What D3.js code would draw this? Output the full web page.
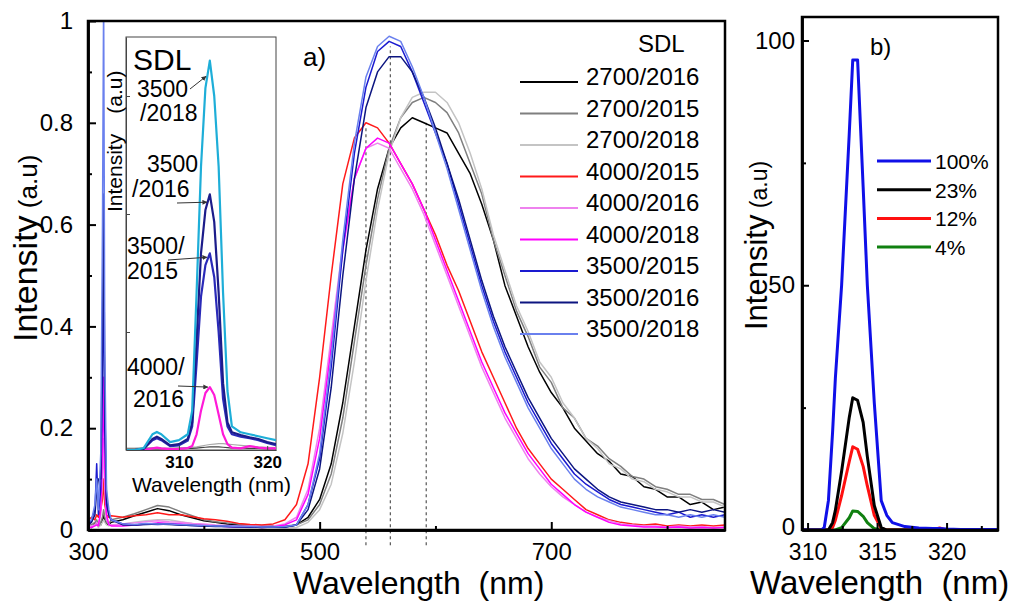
<!DOCTYPE html>
<html>
<head>
<meta charset="utf-8">
<script src="https://cdn.jsdelivr.net/npm/d3@7"></script>
<style>
  html, body { margin: 0; padding: 0; background: #fff; }
  svg { display: block; font-family: Arial, "Liberation Sans", sans-serif; }
</style>
</head>
<body>
<svg id="chart" width="1015" height="601"></svg>
<script>
// ---------- data: panel a (main spectra) ----------
const mainWl = [300, 303, 306, 307.5, 309, 311, 312.5, 313.5, 314.5, 316, 318, 320,
  330, 340, 350, 360, 370, 380, 390, 400, 410, 420, 430, 440, 450, 460, 470,
  480, 490, 500, 510, 520, 530, 540, 550, 560, 570, 580, 590, 600, 610, 620, 630, 640, 650,
  660, 670, 680, 690, 700, 710, 720, 730, 740, 750, 760, 770, 780, 790, 800, 810, 820, 830, 840, 850];

const s2700_2016 = [0.01, 0.005, 0.012, 0.015, 0.008, 0.01, 0.02, 0.03, 0.02, 0.012, 0.01, 0.015,
  0.02, 0.028, 0.035, 0.042, 0.038, 0.03, 0.024, 0.018, 0.015, 0.012, 0.01, 0.009, 0.007, 0.008, 0.006,
  0.01, 0.025, 0.06, 0.13, 0.25, 0.4, 0.55, 0.67, 0.75, 0.79, 0.81, 0.8, 0.79, 0.78, 0.74, 0.7, 0.64, 0.57,
  0.48, 0.42, 0.36, 0.31, 0.27, 0.24, 0.2, 0.175, 0.15, 0.135, 0.11, 0.105, 0.085, 0.08, 0.065, 0.065, 0.05, 0.055, 0.04, 0.045];
const s2700_2015 = [0.015, 0.01, 0.015, 0.02, 0.01, 0.015, 0.025, 0.04, 0.025, 0.015, 0.012, 0.02,
  0.025, 0.032, 0.04, 0.048, 0.045, 0.036, 0.028, 0.02, 0.016, 0.014, 0.012, 0.01, 0.009, 0.008, 0.008,
  0.01, 0.02, 0.05, 0.11, 0.22, 0.37, 0.52, 0.65, 0.75, 0.81, 0.84, 0.85, 0.84, 0.82, 0.78, 0.72, 0.66, 0.57,
  0.5, 0.43, 0.38, 0.32, 0.29, 0.24, 0.22, 0.18, 0.165, 0.14, 0.125, 0.105, 0.1, 0.085, 0.08, 0.07, 0.07, 0.06, 0.06, 0.05];
const s2700_2018 = [0.005, 0.005, 0.01, 0.01, 0.005, 0.01, 0.015, 0.02, 0.015, 0.01, 0.008, 0.01,
  0.012, 0.015, 0.018, 0.02, 0.02, 0.016, 0.013, 0.01, 0.008, 0.007, 0.006, 0.005, 0.005, 0.005, 0.004,
  0.005, 0.015, 0.04, 0.09, 0.19, 0.33, 0.49, 0.63, 0.74, 0.81, 0.85, 0.86, 0.86, 0.84, 0.8, 0.74, 0.67, 0.58,
  0.51, 0.44, 0.39, 0.33, 0.3, 0.25, 0.22, 0.18, 0.16, 0.13, 0.12, 0.1, 0.095, 0.08, 0.075, 0.065, 0.065, 0.055, 0.055, 0.045];
const s4000_2015 = [0.02, 0.025, 0.02, 0.03, 0.025, 0.04, 0.06, 0.1, 0.05, 0.03, 0.025, 0.028,
  0.025, 0.028, 0.03, 0.034, 0.03, 0.03, 0.026, 0.022, 0.02, 0.017, 0.013, 0.011, 0.01, 0.012, 0.02,
  0.05, 0.13, 0.3, 0.5, 0.68, 0.77, 0.8, 0.79, 0.76, 0.72, 0.68, 0.63, 0.58, 0.52, 0.47, 0.41, 0.35, 0.3,
  0.25, 0.2, 0.16, 0.13, 0.1, 0.08, 0.06, 0.04, 0.03, 0.02, 0.015, 0.012, 0.01, 0.012, 0.008, 0.01, 0.008, 0.01, 0.008, 0.01];
const s4000_2016 = [0.005, 0.008, 0.01, 0.015, 0.01, 0.03, 0.1, 0.18, 0.08, 0.02, 0.012, 0.01,
  0.012, 0.014, 0.016, 0.018, 0.016, 0.015, 0.013, 0.012, 0.01, 0.009, 0.008, 0.008, 0.007, 0.008, 0.012,
  0.025, 0.08, 0.2, 0.38, 0.56, 0.69, 0.75, 0.76, 0.75, 0.71, 0.67, 0.62, 0.56, 0.5, 0.44, 0.38, 0.32, 0.27,
  0.22, 0.18, 0.14, 0.11, 0.085, 0.065, 0.05, 0.035, 0.025, 0.018, 0.012, 0.01, 0.008, 0.008, 0.006, 0.008, 0.006, 0.007, 0.005, 0.006];
const s4000_2018 = [0.005, 0.005, 0.008, 0.01, 0.008, 0.04, 0.16, 0.3, 0.12, 0.03, 0.01, 0.008,
  0.008, 0.01, 0.012, 0.014, 0.013, 0.012, 0.01, 0.009, 0.008, 0.007, 0.006, 0.006, 0.005, 0.006, 0.01,
  0.02, 0.07, 0.18, 0.36, 0.55, 0.69, 0.75, 0.77, 0.76, 0.72, 0.68, 0.63, 0.57, 0.51, 0.45, 0.39, 0.33, 0.28,
  0.23, 0.19, 0.15, 0.12, 0.09, 0.07, 0.05, 0.035, 0.025, 0.015, 0.01, 0.008, 0.006, 0.006, 0.005, 0.006, 0.004, 0.005, 0.004, 0.005];
const s3500_2015 = [0.01, 0.02, 0.04, 0.13, 0.03, 0.08, 0.3, 0.52, 0.2, 0.05, 0.03, 0.02,
  0.012, 0.01, 0.012, 0.011, 0.012, 0.01, 0.009, 0.008, 0.008, 0.007, 0.007, 0.006, 0.006, 0.006, 0.006,
  0.01, 0.05, 0.14, 0.32, 0.55, 0.74, 0.87, 0.94, 0.96, 0.95, 0.9, 0.84, 0.78, 0.72, 0.64, 0.56, 0.48, 0.41,
  0.35, 0.3, 0.25, 0.21, 0.17, 0.14, 0.11, 0.09, 0.075, 0.06, 0.05, 0.045, 0.04, 0.035, 0.03, 0.035, 0.025, 0.03, 0.025, 0.03];
const s3500_2016 = [0.01, 0.015, 0.03, 0.08, 0.1, 0.1, 0.4, 0.66, 0.25, 0.06, 0.03, 0.02,
  0.01, 0.01, 0.011, 0.012, 0.011, 0.01, 0.009, 0.008, 0.007, 0.007, 0.006, 0.006, 0.005, 0.006, 0.006,
  0.01, 0.04, 0.12, 0.28, 0.5, 0.69, 0.83, 0.9, 0.93, 0.93, 0.9, 0.85, 0.79, 0.72, 0.65, 0.57, 0.49, 0.42,
  0.36, 0.31, 0.26, 0.22, 0.18, 0.15, 0.12, 0.1, 0.08, 0.065, 0.055, 0.05, 0.045, 0.04, 0.04, 0.035, 0.04, 0.035, 0.04, 0.035];
const s3500_2018 = [0.015, 0.02, 0.05, 0.1, 0.04, 0.15, 0.6, 1.05, 0.35, 0.08, 0.04, 0.02,
  0.012, 0.011, 0.013, 0.012, 0.012, 0.011, 0.01, 0.009, 0.008, 0.008, 0.007, 0.007, 0.006, 0.006, 0.007,
  0.01, 0.05, 0.15, 0.34, 0.57, 0.76, 0.89, 0.95, 0.97, 0.96, 0.91, 0.85, 0.78, 0.71, 0.63, 0.55, 0.47, 0.4,
  0.34, 0.29, 0.24, 0.2, 0.16, 0.13, 0.1, 0.08, 0.065, 0.055, 0.045, 0.04, 0.035, 0.03, 0.03, 0.025, 0.03, 0.025, 0.03, 0.025];

const mainLabels = ["2700/2016", "2700/2015", "2700/2018", "4000/2015", "4000/2016",
  "4000/2018", "3500/2015", "3500/2016", "3500/2018"];
const mainValues = [s2700_2016, s2700_2015, s2700_2018, s4000_2015, s4000_2016,
  s4000_2018, s3500_2015, s3500_2016, s3500_2018];

const mainXTicks = [300, 500, 700];
const mainXMinor = [400, 600, 800];
const mainYTicks = [0, 0.2, 0.4, 0.6, 0.8, 1];
const mainYMinor = [0.1, 0.3, 0.5, 0.7, 0.9];

// dashed guide lines at the peak positions
const dashWl = [540, 561, 592];
const dashTop = [0.79, 0.95, 0.8];

// ---------- data: inset (UV region) ----------
const insetWl = [304, 305, 306, 307, 307.5, 308, 309, 310, 311, 311.5, 312, 312.5, 313, 313.5,
  314, 314.5, 315, 315.5, 316, 317, 318, 319, 320, 321];
const inset3500_2018 = [0, 0, 0.005, 0.04, 0.046, 0.04, 0.02, 0.025, 0.04, 0.1, 0.4, 0.72, 0.92, 0.99,
  0.9, 0.72, 0.4, 0.15, 0.06, 0.045, 0.04, 0.035, 0.03, 0.025];
const inset3500_2016 = [0, 0, 0.003, 0.028, 0.034, 0.028, 0.012, 0.015, 0.028, 0.07, 0.28, 0.5, 0.61, 0.65,
  0.58, 0.4, 0.17, 0.07, 0.045, 0.038, 0.032, 0.028, 0.02, 0.015];
const inset3500_2015 = [0, 0, 0.003, 0.025, 0.03, 0.025, 0.01, 0.012, 0.024, 0.06, 0.22, 0.39, 0.47, 0.5,
  0.44, 0.3, 0.13, 0.06, 0.04, 0.034, 0.03, 0.025, 0.018, 0.012];
const inset4000_2016 = [0, 0, 0, 0.004, 0.006, 0.004, 0.002, 0.003, 0.005, 0.01, 0.04, 0.1, 0.145, 0.16,
  0.14, 0.09, 0.04, 0.015, 0.006, 0.004, 0.01, 0.006, 0.004, 0.004];
const inset2700_2015 = [0.005, 0.005, 0.006, 0.006, 0.006, 0.005, 0.005, 0.006, 0.006, 0.007, 0.008, 0.01, 0.012, 0.014,
  0.015, 0.016, 0.016, 0.015, 0.014, 0.012, 0.01, 0.008, 0.007, 0.006];
const inset2700_2016 = [0.002, 0.002, 0.003, 0.003, 0.003, 0.003, 0.003, 0.003, 0.004, 0.004, 0.005, 0.006, 0.007, 0.008,
  0.008, 0.008, 0.007, 0.006, 0.005, 0.005, 0.004, 0.004, 0.003, 0.003];
const insetValues = [inset2700_2015, inset2700_2016, inset4000_2016, inset3500_2015, inset3500_2016, inset3500_2018];
const insetXTicks = [310, 320];
const insetYTicks = [0.3, 0.6, 0.9];

// inset annotations: text lines and the peak each one points at
const insetNotes = [
  {lines: ["3500", "/2018"], peakWl: 313.3, peak: 0.95},
  {lines: ["3500", "/2016"], peakWl: 313.4, peak: 0.63},
  {lines: ["3500/", "2015"], peakWl: 313.4, peak: 0.49},
  {lines: ["4000/", "2016"], peakWl: 313.5, peak: 0.16}
];

// ---------- data: panel b ----------
const bWl = [309.6, 311, 311.2, 311.5, 311.8, 312, 312.45, 313, 313.25, 313.6, 314, 314.3, 314.8,
  315.3, 315.7, 316.1, 317, 318, 319, 319.5, 320, 321, 323.7];
const b100 = [0, 0, 0.5, 6, 20, 31, 50, 81, 96, 96, 70, 50, 26, 6, 3, 1.5, 0.7, 0.4, 0.3, 0.3, 0.2, 0.1, 0.1];
const b23 = [0, 0, 0, 0, 1.5, 4, 12, 23, 27, 26.5, 22, 15, 5, 0.5, 0, 0, 0, 0, 0, 0, 0, 0, 0];
const b12 = [0, 0, 0, 0, 0.5, 2, 7, 14, 17, 16.5, 13, 9, 3, 0.3, 0, 0, 0, 0, 0, 0.4, 0, 0, 0];
const b4 = [0, 0, 0, 0, 0, 0, 0.5, 2.5, 3.9, 3.8, 2.8, 1.5, 0.3, 0, 0, 0, 0, 0, 0, 0, 0, 0, 0];
const bLabels = ["100%", "23%", "12%", "4%"];
const bValues = [b100, b23, b12, b4];
const bXTicks = [310, 315, 320];
const bXMinor = [312.5, 317.5, 322.5];
const bYTicks = [0, 50, 100];
const bYMinor = [25, 75];

// ---------- styles ----------
const mainColors = ["#000000", "#7f7f7f", "#c4c4c4", "#ff1a1a", "#ee82ee", "#ff00ff", "#1a1ad0", "#0c1580", "#6a80ee"];
const insetColors = ["#aaaaaa", "#444444", "#ff1ad8", "#2a2ab8", "#1c1c8a", "#1eaed8"];
const bColors = ["#1010e8", "#000000", "#ff1010", "#108010"];

mainValues.forEach((v, i) => { if (v.length !== mainWl.length) console.warn("length", mainLabels[i], v.length); });

const svg = d3.select("#chart");

function styleAxis(g, fontSize) {
  g.select(".domain").attr("stroke", "#000").attr("stroke-width", 2.5);
  g.selectAll(".tick line").attr("stroke", "#000").attr("stroke-width", 2);
  g.selectAll(".tick text").attr("fill", "#000").attr("font-size", fontSize + "px")
    .attr("font-family", 'Arial, "Liberation Sans", sans-serif');
}

// ================= panel a =================
const ma = {left: 88, right: 725, top: 21, bottom: 530};
const x = d3.scaleLinear().domain([300, 850]).range([ma.left, ma.right]);
const y = d3.scaleLinear().domain([0, 1]).range([ma.bottom, ma.top]);

svg.append("clipPath").attr("id", "clipA").append("rect")
  .attr("x", ma.left).attr("y", ma.top).attr("width", ma.right - ma.left).attr("height", ma.bottom - ma.top);

// dashed guides
svg.append("g").selectAll("line").data(dashWl).join("line")
  .attr("x1", d => x(d)).attr("x2", d => x(d))
  .attr("y1", y(-0.03)).attr("y2", (d, i) => y(dashTop[i]))
  .attr("stroke", "#333").attr("stroke-width", 1).attr("stroke-dasharray", "3,3");

const lineA = d3.line().x((d, i) => x(mainWl[i])).y(d => y(d));
svg.append("g").attr("clip-path", "url(#clipA)")
  .selectAll("path").data(mainValues).join("path")
  .attr("d", lineA).attr("fill", "none")
  .attr("stroke", (d, i) => mainColors[i]).attr("stroke-width", 1.5)
  .attr("stroke-linejoin", "round");

// axes panel a
svg.append("g").attr("transform", `translate(0,${ma.bottom})`)
  .call(d3.axisBottom(x).tickValues(mainXMinor).tickSize(-4).tickSizeOuter(0).tickFormat(""))
  .call(g => styleAxis(g, 24));
svg.append("g").attr("transform", `translate(0,${ma.bottom})`)
  .call(d3.axisBottom(x).tickValues(mainXTicks).tickSize(-8).tickSizeOuter(0).tickPadding(13).tickFormat(d3.format("d")))
  .call(g => styleAxis(g, 24));
svg.append("g").attr("transform", `translate(${ma.left},0)`)
  .call(d3.axisLeft(y).tickValues(mainYMinor).tickSize(-4).tickSizeOuter(0).tickFormat(""))
  .call(g => styleAxis(g, 24));
svg.append("g").attr("transform", `translate(${ma.left},0)`)
  .call(d3.axisLeft(y).tickValues(mainYTicks).tickSize(-8).tickSizeOuter(0).tickPadding(15).tickFormat(d => d === 0 || d === 1 ? d : d3.format(".1f")(d)))
  .call(g => styleAxis(g, 24));
svg.append("rect").attr("x", ma.left).attr("y", ma.top)
  .attr("width", ma.right - ma.left).attr("height", ma.bottom - ma.top)
  .attr("fill", "none").attr("stroke", "#000").attr("stroke-width", 2.5);

// titles panel a
svg.append("text").attr("x", 293).attr("y", 594).attr("font-size", "32px").attr("fill", "#000")
  .text("Wavelength\u00a0\u00a0(nm)");
const yt = svg.append("text").attr("transform", "translate(37,342) rotate(-90)").attr("fill", "#000");
yt.append("tspan").attr("font-size", "34px").text("Intensity");
yt.append("tspan").attr("font-size", "26px").text("\u00a0(a.u)");
svg.append("text").attr("x", 303).attr("y", 66).attr("font-size", "26px").attr("fill", "#000").text("a)");

// legend panel a
const lg = svg.append("g");
lg.append("text").attr("x", 638).attr("y", 52).attr("font-size", "24px").text("SDL");
const lgRows = lg.selectAll("g").data(mainLabels).join("g")
  .attr("transform", (d, i) => `translate(0,${85 + i * 31.5})`);
lgRows.append("line").attr("x1", 520).attr("x2", 578).attr("y1", -3).attr("y2", -3)
  .attr("stroke", (d, i) => mainColors[i]).attr("stroke-width", 2);
lgRows.append("text").attr("x", 586).attr("y", 0).attr("font-size", "24px").text(d => d);

// ================= inset =================
const ins = {left: 126, right: 276, top: 37, bottom: 450};
const xi = d3.scaleLinear().domain([304, 321]).range([ins.left, ins.right]);
const yi = d3.scaleLinear().domain([0, 1.05]).range([ins.bottom, ins.top]);
svg.append("rect").attr("x", ins.left).attr("y", ins.top)
  .attr("width", ins.right - ins.left).attr("height", ins.bottom - ins.top)
  .attr("fill", "#fff").attr("stroke", "#444").attr("stroke-width", 1);
svg.append("clipPath").attr("id", "clipI").append("rect")
  .attr("x", ins.left).attr("y", ins.top).attr("width", ins.right - ins.left).attr("height", ins.bottom - ins.top);
const lineI = d3.line().x((d, i) => xi(insetWl[i])).y(d => yi(d));
svg.append("g").attr("clip-path", "url(#clipI)")
  .selectAll("path").data(insetValues).join("path")
  .attr("d", lineI).attr("fill", "none")
  .attr("stroke", (d, i) => insetColors[i]).attr("stroke-width", (d, i) => i < 2 ? 1.2 : 2.2)
  .attr("stroke-linejoin", "round");

const gix = svg.append("g").attr("transform", `translate(0,${ins.bottom})`)
  .call(d3.axisBottom(xi).tickValues(insetXTicks).tickSize(-4).tickSizeOuter(0).tickPadding(6).tickFormat(d3.format("d")));
gix.select(".domain").attr("stroke", "#444");
gix.selectAll(".tick line").attr("stroke", "#444");
gix.selectAll(".tick text").attr("fill", "#000").attr("font-size", "17px").attr("font-weight", "bold")
  .attr("font-family", 'Arial, "Liberation Sans", sans-serif');
const giy = svg.append("g").attr("transform", `translate(${ins.left},0)`)
  .call(d3.axisLeft(yi).tickValues(insetYTicks).tickSize(-4).tickSizeOuter(0).tickFormat(""));
giy.select(".domain").attr("stroke", "#444");
giy.selectAll(".tick line").attr("stroke", "#444");

svg.append("text").attr("x", 132).attr("y", 492).attr("font-size", "21px").attr("fill", "#000")
  .text("Wavelength (nm)");
const iyt = svg.append("text").attr("transform", "translate(122,212) rotate(-90)").attr("fill", "#000").attr("font-size", "21px");
iyt.append("tspan").text("Intensity");
iyt.append("tspan").attr("dx", 20).text("(a.u)");
svg.append("text").attr("x", 133).attr("y", 70).attr("font-size", "30px").attr("fill", "#000").text("SDL");

// annotation text placement (layout only)
const notePos = [
  {tx: [137, 140], ty: [97, 121], from: [190, 89]},
  {tx: [147, 132], ty: [172, 197], from: [177, 203]},
  {tx: [127, 127], ty: [254, 279], from: [168, 260]},
  {tx: [127, 133], ty: [375, 407], from: [178, 386]}
];
svg.append("defs").append("marker").attr("id", "arr").attr("viewBox", "0 0 10 10")
  .attr("refX", 9).attr("refY", 5).attr("markerWidth", 5).attr("markerHeight", 5).attr("orient", "auto")
  .append("path").attr("d", "M0,0 L10,5 L0,10 z").attr("fill", "#333");
insetNotes.forEach((n, i) => {
  const p = notePos[i];
  n.lines.forEach((t, j) => {
    svg.append("text").attr("x", p.tx[j]).attr("y", p.ty[j]).attr("font-size", "23px").attr("fill", "#000").text(t);
  });
  svg.append("line").attr("x1", p.from[0]).attr("y1", p.from[1])
    .attr("x2", xi(n.peakWl) - 2).attr("y2", yi(n.peak))
    .attr("stroke", "#333").attr("stroke-width", 1).attr("marker-end", "url(#arr)");
});

// ================= panel b =================
const mb = {left: 802, right: 998, top: 17, bottom: 530};
const xb = d3.scaleLinear().domain([309.6, 323.7]).range([mb.left, mb.right]);
const yb = d3.scaleLinear().domain([0, 104.8]).range([mb.bottom, mb.top]);
svg.append("clipPath").attr("id", "clipB").append("rect")
  .attr("x", mb.left).attr("y", mb.top).attr("width", mb.right - mb.left).attr("height", mb.bottom - mb.top);
const lineB = d3.line().x((d, i) => xb(bWl[i])).y(d => yb(d));
svg.append("g").attr("clip-path", "url(#clipB)")
  .selectAll("path").data(bValues.slice().reverse()).join("path")
  .attr("d", lineB).attr("fill", "none")
  .attr("stroke", (d, i) => bColors[bValues.length - 1 - i]).attr("stroke-width", 3)
  .attr("stroke-linejoin", "round");

svg.append("g").attr("transform", `translate(0,${mb.bottom})`)
  .call(d3.axisBottom(xb).tickValues(bXMinor).tickSize(-4).tickSizeOuter(0).tickFormat(""))
  .call(g => styleAxis(g, 24));
svg.append("g").attr("transform", `translate(0,${mb.bottom})`)
  .call(d3.axisBottom(xb).tickValues(bXTicks).tickSize(-7).tickSizeOuter(0).tickPadding(14).tickFormat(d3.format("d")))
  .call(g => styleAxis(g, 23));
svg.append("g").attr("transform", `translate(${mb.left},0)`)
  .call(d3.axisLeft(yb).tickValues(bYMinor).tickSize(-4).tickSizeOuter(0).tickFormat(""))
  .call(g => styleAxis(g, 24));
svg.append("g").attr("transform", `translate(${mb.left},0)`)
  .call(d3.axisLeft(yb).tickValues(bYTicks).tickSize(-7).tickSizeOuter(0).tickPadding(7).tickFormat(d3.format("d")))
  .call(g => styleAxis(g, 24))
  .call(g => g.selectAll(".tick text").attr("dy", d => d === 0 ? "0.2em" : "0.32em"));
svg.append("rect").attr("x", mb.left).attr("y", mb.top)
  .attr("width", mb.right - mb.left).attr("height", mb.bottom - mb.top)
  .attr("fill", "none").attr("stroke", "#000").attr("stroke-width", 2.5);

svg.append("text").attr("x", 750).attr("y", 594).attr("font-size", "33px").attr("fill", "#000")
  .text("Wavelength\u00a0\u00a0(nm)");
const byt = svg.append("text").attr("transform", "translate(767,330) rotate(-90)").attr("fill", "#000");
byt.append("tspan").attr("font-size", "31px").text("Intensity");
byt.append("tspan").attr("font-size", "23px").text("\u00a0(a.u)");
svg.append("text").attr("x", 870).attr("y", 55).attr("font-size", "24px").attr("fill", "#000").text("b)");

const lgb = svg.append("g").selectAll("g").data(bLabels).join("g")
  .attr("transform", (d, i) => `translate(0,${161 + i * 28.7})`);
lgb.append("line").attr("x1", 877).attr("x2", 931).attr("y1", 0).attr("y2", 0)
  .attr("stroke", (d, i) => bColors[i]).attr("stroke-width", 3);
lgb.append("text").attr("x", 935).attr("y", 8).attr("font-size", "21px").attr("fill", "#000").text(d => d);
</script>
</body>
</html>
